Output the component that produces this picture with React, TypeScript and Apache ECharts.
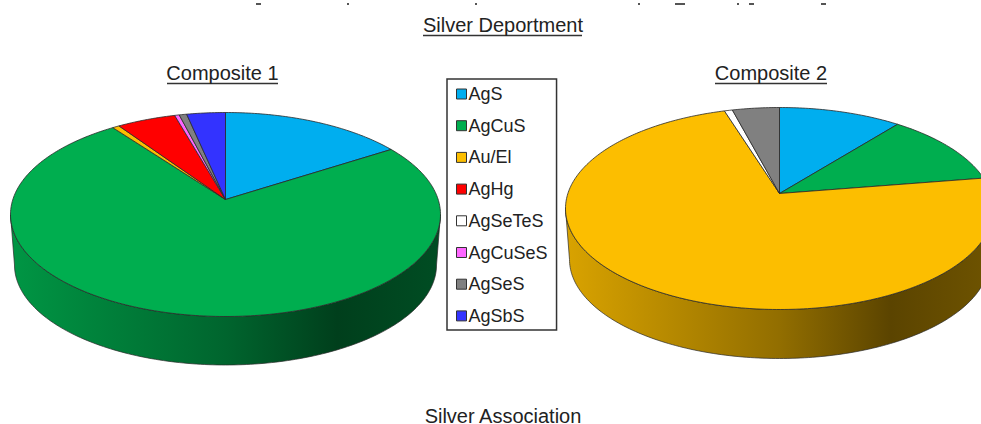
import React, { useEffect, useRef } from "react";
import * as echarts from "echarts";

const categories = ["AgS", "AgCuS", "Au/El", "AgHg", "AgSeTeS", "AgCuSeS", "AgSeS", "AgSbS"];
const colors = ["#00AEEF", "#00AE4F", "#FCBE00", "#FF0000", "#FFFFFF", "#FF66FF", "#808080", "#3333FF"];
const composite1 = [15.9, 74.0, 0.6, 5.1, 0, 0.4, 0.65, 3.35];
const composite2 = [10.7, 11.75, 72.75, 0, 0.7, 0, 4.1, 0];
const pieTitles = ["Composite 1", "Composite 2"];
const mainTitle = "Silver Deportment";
const footTitle = "Silver Association";

const FONT = '"Liberation Sans", Arial, sans-serif';
const TEXT = "#222222";
const EDGE = "#2a2a2a";

// Perspective geometry of each disc
const pies = [
  { ax: 225.5, ay: 199.5, rx: 215, up: 87, down: 117, rx2: 211, bottom: 365, ry2: 100 },
  { ax: 779.5, ay: 193.5, rx: 214, up: 86, down: 116, rx2: 210, bottom: 358.5, ry2: 99 },
];

function project(pie: any, pct: number) {
  const t = (2 * Math.PI * pct) / 100;
  const b = (pie.down - pie.up) / (pie.down + pie.up);
  const A = pie.up * (1 + b);
  const B = pie.rx * Math.sqrt(1 - b * b);
  const u = Math.sin(t);
  const v = Math.cos(t);
  const d = 1 + b * v;
  return [pie.ax + (u * B) / d, pie.ay - (v * A) / d];
}

function ellipseAngle(pie: any, pct: number) {
  const [x, y] = project(pie, pct);
  const cy = pie.ay + (pie.down - pie.up) / 2;
  const ry = (pie.up + pie.down) / 2;
  let a = Math.atan2((x - pie.ax) / pie.rx, -(y - cy) / ry);
  if (a < 0) a += 2 * Math.PI;
  if (pct >= 100) a = 2 * Math.PI;
  return a;
}

function shade(hex: string, f: number) {
  const n = parseInt(hex.slice(1), 16);
  const c = [(n >> 16) & 255, (n >> 8) & 255, n & 255].map((x) => Math.round(x * f));
  return `rgb(${c[0]},${c[1]},${c[2]})`;
}

function renderSlice(color: string) {
  return (_params: any, api: any) => {
    const pie = pies[api.value(0)];
    const start = api.value(1);
    const end = api.value(2);
    const children: any[] = [];

    // side wall, only for the front half of the disc
    const a0 = Math.max(ellipseAngle(pie, start), Math.PI / 2);
    const a1 = Math.min(ellipseAngle(pie, end), (3 * Math.PI) / 2);
    if (a1 > a0) {
      const cy = pie.ay + (pie.down - pie.up) / 2;
      const ry = (pie.up + pie.down) / 2;
      const cy2 = pie.bottom - pie.ry2;
      const top: number[][] = [];
      const bot: number[][] = [];
      const n = Math.ceil((a1 - a0) / 0.02);
      for (let i = 0; i <= n; i++) {
        const a = a0 + ((a1 - a0) * i) / n;
        top.push([pie.ax + pie.rx * Math.sin(a), cy - ry * Math.cos(a)]);
        bot.push([pie.ax + pie.rx2 * Math.sin(a), cy2 - pie.ry2 * Math.cos(a)]);
      }
      children.push({
        type: "polygon",
        shape: { points: top.concat(bot.reverse()) },
        style: {
          fill: new echarts.graphic.LinearGradient(1, 0, 0, 0, [
            { offset: 0, color: shade(color, 0.44) },
            { offset: 0.24, color: shade(color, 0.36) },
            { offset: 0.5, color: shade(color, 0.58) },
            { offset: 1, color: shade(color, 0.86) },
          ]),
          stroke: EDGE,
          lineWidth: 0.7,
        },
      });
    }

    // top face
    const pts: number[][] = [[pie.ax, pie.ay]];
    const steps = Math.max(2, Math.ceil((end - start) / 0.25));
    for (let i = 0; i <= steps; i++) pts.push(project(pie, start + ((end - start) * i) / steps));
    children.push({
      type: "polygon",
      shape: { points: pts },
      style: { fill: color, stroke: EDGE, lineWidth: 0.8, lineJoin: "round" },
    });
    return { type: "group", children };
  };
}

function sliceData(i: number) {
  const rows: number[][] = [];
  [composite1, composite2].forEach((vals, p) => {
    const start = vals.slice(0, i).reduce((s, v) => s + v, 0);
    if (vals[i] > 0) rows.push([p, start, start + vals[i]]);
  });
  return rows;
}

const underline = (x1: number, x2: number, y: number) => ({
  type: "line",
  silent: true,
  shape: { x1, y1: y, x2, y2: y },
  style: { stroke: "#333333", lineWidth: 1.4 },
});

const speck = (x: number, w: number) => ({
  type: "rect",
  silent: true,
  shape: { x, y: 3, width: w, height: 2 },
  style: { fill: "#555555" },
});

export default function App() {
  const ref = useRef<HTMLDivElement>(null);
  useEffect(() => {
    const chart = echarts.init(ref.current!, undefined, { renderer: "svg" });
    const titleStyle = { fontFamily: FONT, fontSize: 20, fontWeight: "normal" as const, color: TEXT };
    chart.setOption({
      animation: false,
      backgroundColor: "#ffffff",
      title: [
        { text: mainTitle, left: 503, top: 15, textAlign: "center", padding: 0, textStyle: titleStyle },
        { text: pieTitles[0], left: 222.5, top: 63, textAlign: "center", padding: 0, textStyle: titleStyle },
        { text: pieTitles[1], left: 771, top: 63, textAlign: "center", padding: 0, textStyle: titleStyle },
        {
          text: footTitle,
          left: 503,
          top: 408,
          textAlign: "center",
          padding: 0,
          textStyle: { ...titleStyle, lineHeight: 16 },
        },
      ],
      legend: {
        orient: "vertical",
        left: 447,
        top: 79,
        selectedMode: false,
        padding: [6, 9, 5, 9],
        itemGap: 13.7,
        itemWidth: 10,
        itemHeight: 10,
        borderColor: "#333333",
        borderWidth: 1.5,
        backgroundColor: "#ffffff",
        icon: "rect",
        itemStyle: { borderColor: "#333333", borderWidth: 1 },
        textStyle: { fontFamily: FONT, fontSize: 18, color: TEXT, padding: [0, 0, 0, -3] },
        data: categories,
      },
      graphic: [
        underline(423, 582, 35.5),
        underline(167, 278, 83.5),
        underline(715, 827, 83.5),
        speck(256, 5),
        speck(347, 2),
        speck(475, 2),
        speck(638, 2),
        speck(675, 10),
        speck(737, 2),
        speck(749, 5),
        speck(821, 5),
      ],
      series: categories.map((name, i) => ({
        type: "custom",
        name,
        coordinateSystem: "none",
        silent: true,
        itemStyle: { color: colors[i] },
        renderItem: renderSlice(colors[i]),
        data: sliceData(i),
      })),
    });
    return () => chart.dispose();
  }, []);
  return (
    <div
      ref={ref}
      style={{ position: "absolute", left: 0, top: 0, width: 981, height: 424, overflow: "hidden" }}
    />
  );
}
